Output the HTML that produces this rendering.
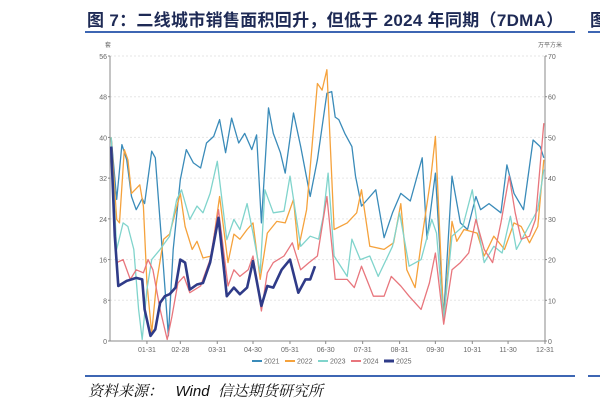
<!DOCTYPE html>
<html><head><meta charset="utf-8">
<style>
body{margin:0;width:600px;height:408px;background:#fff;overflow:hidden;position:relative;font-family:"Liberation Sans","Noto Sans CJK SC",sans-serif}
.title{position:absolute;left:87px;top:6px;font-size:17px;font-weight:bold;color:#1e2a55;white-space:nowrap;letter-spacing:0.3px}
.cut{position:absolute;left:590px;top:6px;font-size:17px;font-weight:bold;color:#1e2a55}
.rule{position:absolute;height:2px;background:#3d66b3}
.src{position:absolute;left:88px;top:380px;font-size:15px;font-style:italic;color:#111;font-family:"Liberation Sans","Noto Serif CJK SC",sans-serif}
</style></head><body>
<div class="title">图 7：二线城市销售面积回升，但低于 2024 年同期（7DMA）</div>
<div class="cut">图</div>
<div class="rule" style="left:85px;top:31px;width:490px"></div>
<div class="rule" style="left:588px;top:31px;width:12px"></div>
<div class="rule" style="left:85px;top:375px;width:490px"></div>
<div class="rule" style="left:588px;top:375px;width:12px"></div>
<div class="src">资料来源：&nbsp;&nbsp;&nbsp;Wind&nbsp; 信达期货研究所</div>
<svg id="chart" width="600" height="408" style="position:absolute;left:0;top:0"></svg>
<script>
const leftTicks=[0,8,16,24,32,40,48,56];
const rightTicks=[0,10,20,30,40,50,60,70];
const xTickLabels=["01-31","02-28","03-31","04-30","05-31","06-30","07-31","08-31","09-30","10-31","11-30","12-31"];
const xTickDays=[31,59,90,120,151,181,212,243,273,304,334,365];
const seriesNames=["2021","2022","2023","2024","2025"];
const seriesColors=["#3a8bb9","#f5a23c","#80d4cc","#e8767d","#2f3b88"];
const d2021=[1,5.6,10,14,18,22,27,29,35,38,43,49,53,59,64,70,76,81,87,92,97,102,108,113,119,123,127,133,137,143,147,154,160,168,174,182,186,189,192,197,203,206,211,216,223,230,237,244,252,262,266,273,280,287,294,300,307,311,318,328,333,339,347,355,361,364];
const v2021=[40,27.8,38.6,35.6,28.4,25.8,28,27,37.3,36,20.6,1,18,31.7,37.6,35,34,38.9,40.2,43.5,37,43.8,38.9,40.8,37.6,40.5,23.2,45.8,40.8,37,33,44.8,38.2,28.4,35.6,48.7,49,44,43.5,40.8,38.2,32.4,26.5,27.8,29.7,20.3,25.2,29,27.5,36,20,33,4.9,32.4,23.2,21.9,28.4,25.8,27,25.2,34.6,29,25.8,39.5,38.2,36];
const d2022=[1,5.6,8,12,15,18,25,28,31,35,39,45,50,59,63,69,73,78,85,92,99,104,109,115,120,126,132,140,147,154,158,165,174,178,182,188,199,207,211,218,230,238,244,249,256,262,269,273,280,287,291,297,308,314,322,331,339,345,352,359,364];
const v2022=[40,23.9,23.2,37.6,35.6,29,30.7,26.5,11.4,1.6,11.4,20,21,29,22.5,18,19.6,16.3,16.7,28.4,15.4,21,20,21.9,23.2,12.1,21.2,23.5,23.2,27.8,18,25.8,50.6,49.3,53.3,21.9,23.2,25.2,29.7,18.6,18,19.3,27,14,10.5,20.6,31.7,40.2,3.9,23.5,19.6,21.9,21.2,16.7,20.6,18,23.2,22.5,19.3,22.5,35.6];
const d2023=[1,5.6,11,15,20,24,27,31,35,42,50,56,60,67,73,78,84,90,98,104,109,115,120,126,130,137,146,151,160,168,175,179,183,188,199,203,210,218,225,237,243,251,261,270,274,280,287,296,304,308,314,322,329,336,341,350,359,364];
const v2023=[40,18,23.2,22.5,18,6.2,0.3,10.1,16,18,20.6,27.8,29.7,23.9,26.5,25.2,29,35.3,19.9,23.9,21.9,27,21.2,13.4,29.7,25.2,25.5,32.4,18.6,20.6,20,24.5,33,16.7,12.7,20,16,16.7,12.7,18.6,25.2,14.7,16,23.9,21.2,4.2,20.6,22.5,29.7,23.2,15.4,18.6,17.3,24.5,18,21.9,25.8,33.7];
const d2024=[1,5.6,11,17,22,28,32,36,42,48,52,57,62,67,76,84,91,99,104,109,116,120,127,132,137,146,153,160,167,174,182,189,199,205,211,221,230,236,244,251,261,268,273,280,287,294,301,307,314,321,328,335,340,345,352,357,364];
const v2024=[38,15.4,16,12.1,14,13.4,16,14,6.2,0.3,4.9,11.4,12.7,9.5,10.8,16,25.8,10.8,14,12.7,14,16.7,5.9,13.4,15.4,16.7,19.3,14,15.4,16.7,28.4,12.1,12.1,10.5,14.7,8.8,8.8,12.7,10.8,8.8,6.2,11.4,17.3,3.3,14,15.4,17.3,23.9,18,15.4,23.2,32.4,25.2,20,20.6,23.9,42.8];
const d2025=[1,4,7,14,22,27,29,34,38,42,46,50,55,59,63,67,73,78,84,91,98,104,109,115,120,127,132,137,144,151,158,164,168,172];
const v2025=[38.2,20.6,10.8,11.8,12.4,12.1,6.2,1,2.3,7.5,8.8,9.2,10.5,16,15.4,10.1,11.1,11.4,15.4,24.2,8.8,10.5,9.2,10.5,15.7,6.9,10.8,10.5,14,16,9.5,12.1,12.1,14.7];
const allDays=[d2021,d2022,d2023,d2024,d2025];
const allVals=[v2021,v2022,v2023,v2024,v2025];

const X0=110,X1=545,Y0=341,Y1=56;
const xs=d=>X0+(d/365)*(X1-X0);
const ysL=v=>Y0-(v/56)*(Y0-Y1);
const ysR=v=>Y0-(v/70)*(Y0-Y1);
const svg=document.getElementById('chart');
const NS='http://www.w3.org/2000/svg';
function mk(t,a){const e=document.createElementNS(NS,t);for(const k in a)e.setAttribute(k,a[k]);svg.appendChild(e);return e;}
// grid
leftTicks.forEach(v=>{
  if(v>0){const g=mk('line',{x1:X0,x2:X1,y1:ysL(v),y2:ysL(v),stroke:'#e6e6e6','stroke-dasharray':'2,2'});
  
  }
  const t=mk('text',{x:X0-3,y:ysL(v)+3,'font-size':7,fill:'#666','text-anchor':'end'});t.textContent=v;
  
  
  mk('line',{x1:X0-2,x2:X0,y1:ysL(v),y2:ysL(v),stroke:'#888'});
});
rightTicks.forEach(v=>{
  const t=mk('text',{x:X1+3,y:ysR(v)+3,'font-size':7,fill:'#666'});t.textContent=v;
  
  
  mk('line',{x1:X1,x2:X1+2,y1:ysR(v),y2:ysR(v),stroke:'#888'});
});
let ax=mk('line',{x1:X0,x2:X0,y1:Y1,y2:Y0,stroke:'#888'});


ax=mk('line',{x1:X1,x2:X1,y1:Y1,y2:Y0,stroke:'#888'});


ax=mk('line',{x1:X0,x2:X1,y1:Y0,y2:Y0,stroke:'#888'});


let u=mk('text',{x:X0-2,y:47,'font-size':6,fill:'#666','text-anchor':'middle'});u.textContent='套';


u=mk('text',{x:X1+5,y:47,'font-size':6,fill:'#666','text-anchor':'middle'});u.textContent='万平方米';


xTickDays.forEach((d,i)=>{
  mk('line',{x1:xs(d),x2:xs(d),y1:Y0,y2:Y0+3,stroke:'#888'});
  const t=mk('text',{x:xs(d),y:Y0+11,'font-size':7,fill:'#666','text-anchor':'middle'});t.textContent=xTickLabels[i];
  
  
});
allDays.forEach((ds,i)=>{
  const pts=ds.map((d,j)=>xs(d).toFixed(1)+','+ysL(allVals[i][j]).toFixed(1)).join(' ');
  const p=mk('polyline',{points:pts,fill:'none',stroke:seriesColors[i],'stroke-width':i==4?2.6:1.3,'stroke-linejoin':'round'});
  
  
});
// legend
let lx=252;
seriesNames.forEach((n,i)=>{
  const g=document.createElementNS(NS,'g');svg.appendChild(g);
  
  
  const l=document.createElementNS(NS,'line');
  l.setAttribute('x1',lx);l.setAttribute('x2',lx+10);l.setAttribute('y1',361);l.setAttribute('y2',361);
  l.setAttribute('stroke',seriesColors[i]);l.setAttribute('stroke-width',i==4?3:2);g.appendChild(l);
  const t=document.createElementNS(NS,'text');
  t.setAttribute('x',lx+12);t.setAttribute('y',363.5);t.setAttribute('font-size',7);t.setAttribute('fill','#666');
  t.textContent=n;g.appendChild(t);
  lx+=33;
});
</script>
</body></html>
